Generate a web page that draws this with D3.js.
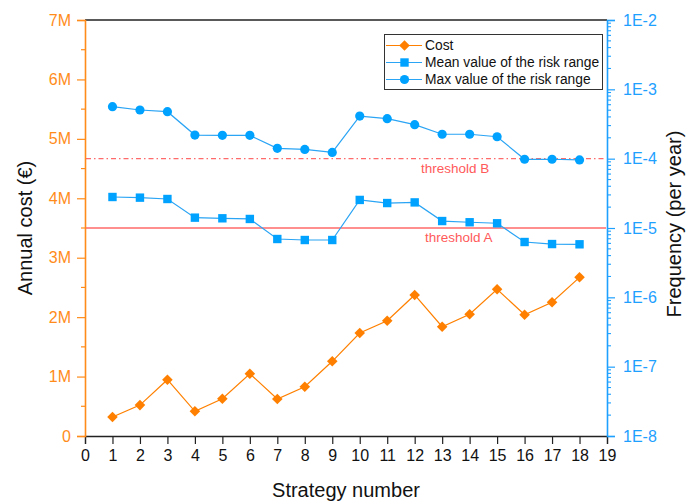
<!DOCTYPE html>
<html>
<head>
<meta charset="utf-8">
<script src="https://cdn.jsdelivr.net/npm/d3@7"></script>
<style>
  html, body { margin: 0; padding: 0; background: #fff; }
  svg { display: block; font-family: "Liberation Sans", Arial, sans-serif; }
</style>
</head>
<body>
<svg id="chart" width="686" height="501"></svg>
<script>
// Strategy numbers and the three series
const strategies = [1, 2, 3, 4, 5, 6, 7, 8, 9, 10, 11, 12, 13, 14, 15, 16, 17, 18];
const cost = [0.32e6, 0.52e6, 0.947e6, 0.416e6, 0.628e6, 1.048e6, 0.623e6, 0.83e6, 1.257e6,
              1.733e6, 1.94e6, 2.373e6, 1.839e6, 2.048e6, 2.468e6, 2.041e6, 2.25e6, 2.67e6];
const meanRisk = [2.80e-5, 2.74e-5, 2.62e-5, 1.41e-5, 1.38e-5, 1.35e-5, 6.94e-6, 6.71e-6, 6.71e-6,
                  2.54e-5, 2.29e-5, 2.34e-5, 1.26e-5, 1.21e-5, 1.17e-5, 6.28e-6, 5.87e-6, 5.82e-6];
const maxRisk = [5.62e-4, 5.03e-4, 4.76e-4, 2.19e-4, 2.17e-4, 2.17e-4, 1.41e-4, 1.36e-4, 1.23e-4,
                 4.12e-4, 3.77e-4, 3.09e-4, 2.25e-4, 2.25e-4, 2.07e-4, 9.8e-5, 9.8e-5, 9.6e-5];

// Axis ticks and thresholds
const xTicks = d3.range(0, 20);
const costTicks = [0, 1e6, 2e6, 3e6, 4e6, 5e6, 6e6, 7e6];
const costTickLabels = ["0", "1M", "2M", "3M", "4M", "5M", "6M", "7M"];
const freqTicks = [1e-8, 1e-7, 1e-6, 1e-5, 1e-4, 1e-3, 1e-2];
const freqTickLabels = ["1E-8", "1E-7", "1E-6", "1E-5", "1E-4", "1E-3", "1E-2"];
const thresholdA = 1e-5;
const thresholdB = 1e-4;

const ORANGE = "#ff8000", ORANGE_TXT = "#ff8c1a";
const BLUE = "#00a2ff", BLUE_LINE = "#2aa4f4", BLUE_TXT = "#1ea0ff";
const RED = "#ff5a5a";

const W = 686, H = 501;
const m = { left: 85, right: 79, top: 20, bottom: 65 };
const x0 = m.left, x1 = W - m.right, y0 = H - m.bottom, y1 = m.top;

const svg = d3.select("#chart");

const x = d3.scaleLinear().domain([0, 19]).range([x0, x1]);
const yL = d3.scaleLinear().domain([0, 7e6]).range([y0, y1]);
const yR = d3.scaleLog().domain([1e-8, 1e-2]).range([y0, y1]);

// top frame line
svg.append("line").attr("x1", x0).attr("x2", x1).attr("y1", y1).attr("y2", y1)
  .attr("stroke", "#222").attr("stroke-width", 1.3);

// bottom axis
const gx = svg.append("g").attr("transform", `translate(0,${y0})`)
  .call(d3.axisBottom(x).tickValues(xTicks).tickFormat(d3.format("d")).tickSizeOuter(0).tickSize(8).tickPadding(6));
gx.select(".domain").attr("stroke", "#222").attr("stroke-width", 1.3);
gx.selectAll(".tick line").attr("stroke", "#222").attr("stroke-width", 1.2);
gx.selectAll(".tick text").attr("fill", "#111").attr("font-size", 16).attr("font-family", "Liberation Sans, Arial, sans-serif");

// left axis: minor ticks at half-million steps
const leftMinor = d3.range(0.5e6, 7e6, 1e6);
svg.append("g").selectAll("line").data(leftMinor).join("line")
  .attr("x1", x0 - 4).attr("x2", x0).attr("y1", d => yL(d)).attr("y2", d => yL(d))
  .attr("stroke", ORANGE_TXT).attr("stroke-width", 1.2);
const gl = svg.append("g").attr("transform", `translate(${x0},0)`)
  .call(d3.axisLeft(yL).tickValues(costTicks).tickFormat((d, i) => costTickLabels[i]).tickSizeOuter(0).tickSize(8).tickPadding(6));
gl.select(".domain").attr("stroke", ORANGE_TXT).attr("stroke-width", 1.6);
gl.selectAll(".tick line").attr("stroke", ORANGE_TXT).attr("stroke-width", 1.2);
gl.selectAll(".tick text").attr("fill", ORANGE_TXT).attr("font-size", 16).attr("font-family", "Liberation Sans, Arial, sans-serif");

// right axis: log minor ticks 2..9 in each decade
const rightMinor = [];
for (let e = -8; e < -2; e++) for (let k = 2; k <= 9; k++) rightMinor.push(k * Math.pow(10, e));
svg.append("g").selectAll("line").data(rightMinor).join("line")
  .attr("x1", x1).attr("x2", x1 + 4).attr("y1", d => yR(d)).attr("y2", d => yR(d))
  .attr("stroke", BLUE_TXT).attr("stroke-width", 1.1);
const gr = svg.append("g").attr("transform", `translate(${x1},0)`)
  .call(d3.axisRight(yR).tickValues(freqTicks).tickFormat((d, i) => freqTickLabels[i]).tickSizeOuter(0).tickSize(8).tickPadding(8));
gr.select(".domain").attr("stroke", BLUE_TXT).attr("stroke-width", 1.6);
gr.selectAll(".tick line").attr("stroke", BLUE_TXT).attr("stroke-width", 1.2);
gr.selectAll(".tick text").attr("fill", BLUE_TXT).attr("font-size", 16).attr("font-family", "Liberation Sans, Arial, sans-serif");

// axis titles
svg.append("text").attr("transform", `translate(32,${(y0 + y1) / 2}) rotate(-90)`)
  .attr("text-anchor", "middle").attr("font-size", 20).attr("fill", "#111").text("Annual cost (€)");
svg.append("text").attr("transform", `translate(681,${(y0 + y1) / 2 - 4}) rotate(-90)`)
  .attr("text-anchor", "middle").attr("font-size", 20).attr("fill", "#111").text("Frequency (per year)");
svg.append("text").attr("x", (x0 + x1) / 2).attr("y", 497)
  .attr("text-anchor", "middle").attr("font-size", 20).attr("fill", "#111").text("Strategy number");

// threshold lines
svg.append("line").attr("x1", x0 + 1).attr("x2", x1 - 1).attr("y1", yR(thresholdB)).attr("y2", yR(thresholdB))
  .attr("stroke", RED).attr("stroke-width", 1.2).attr("stroke-dasharray", "5,3,1.5,3").attr("opacity", 0.9);
svg.append("line").attr("x1", x0 + 1).attr("x2", x1 - 1).attr("y1", yR(thresholdA)).attr("y2", yR(thresholdA))
  .attr("stroke", RED).attr("stroke-width", 1.3).attr("opacity", 0.9);
svg.append("text").attr("x", 421).attr("y", yR(thresholdB) + 14).attr("font-size", 13.5).attr("fill", RED).text("threshold B");
svg.append("text").attr("x", 425).attr("y", yR(thresholdA) + 14).attr("font-size", 13.5).attr("fill", RED).text("threshold A");

// series
const costData = strategies.map((s, i) => [s, cost[i]]);
const meanData = strategies.map((s, i) => [s, meanRisk[i]]);
const maxData = strategies.map((s, i) => [s, maxRisk[i]]);

const lineL = d3.line().x(d => x(d[0])).y(d => yL(d[1]));
const lineR = d3.line().x(d => x(d[0])).y(d => yR(d[1]));

svg.append("path").datum(costData).attr("d", lineL).attr("fill", "none").attr("stroke", ORANGE).attr("stroke-width", 1.2);
svg.append("path").datum(meanData).attr("d", lineR).attr("fill", "none").attr("stroke", BLUE_LINE).attr("stroke-width", 1.2);
svg.append("path").datum(maxData).attr("d", lineR).attr("fill", "none").attr("stroke", BLUE_LINE).attr("stroke-width", 1.2);

const diamond = d3.symbol().type(d3.symbolSquare).size(56)();
svg.append("g").selectAll("path").data(costData).join("path")
  .attr("d", diamond).attr("transform", d => `translate(${x(d[0])},${yL(d[1])}) rotate(45)`).attr("fill", ORANGE);
svg.append("g").selectAll("rect").data(meanData).join("rect")
  .attr("x", d => x(d[0]) - 4.2).attr("y", d => yR(d[1]) - 4.2).attr("width", 8.4).attr("height", 8.4).attr("fill", BLUE);
svg.append("g").selectAll("circle").data(maxData).join("circle")
  .attr("cx", d => x(d[0])).attr("cy", d => yR(d[1])).attr("r", 4.6).attr("fill", BLUE);

// legend
const lg = svg.append("g");
lg.append("rect").attr("x", 384.5).attr("y", 34.5).attr("width", 218).attr("height", 55)
  .attr("fill", "#fff").attr("stroke", "#333").attr("stroke-width", 1);
const legendItems = [
  { label: "Cost", color: ORANGE, shape: "diamond" },
  { label: "Mean value of the risk range", color: BLUE, shape: "square" },
  { label: "Max value of the risk range", color: BLUE, shape: "circle" }
];
legendItems.forEach((it, i) => {
  const cy = 45.5 + i * 17;
  const g = lg.append("g");
  g.append("line").attr("x1", 386).attr("x2", 422).attr("y1", cy).attr("y2", cy)
    .attr("stroke", it.shape === "diamond" ? ORANGE : BLUE_LINE).attr("stroke-width", 1.2);
  if (it.shape === "diamond") {
    g.append("path").attr("d", diamond).attr("transform", `translate(404.5,${cy}) rotate(45)`).attr("fill", it.color);
  } else if (it.shape === "square") {
    g.append("rect").attr("x", 400.3).attr("y", cy - 4.2).attr("width", 8.4).attr("height", 8.4).attr("fill", it.color);
  } else {
    g.append("circle").attr("cx", 404.5).attr("cy", cy).attr("r", 4.6).attr("fill", it.color);
  }
  g.append("text").attr("x", 425).attr("y", cy + 4.8).attr("font-size", 13.8).attr("fill", "#111").text(it.label);
});
</script>
</body>
</html>
